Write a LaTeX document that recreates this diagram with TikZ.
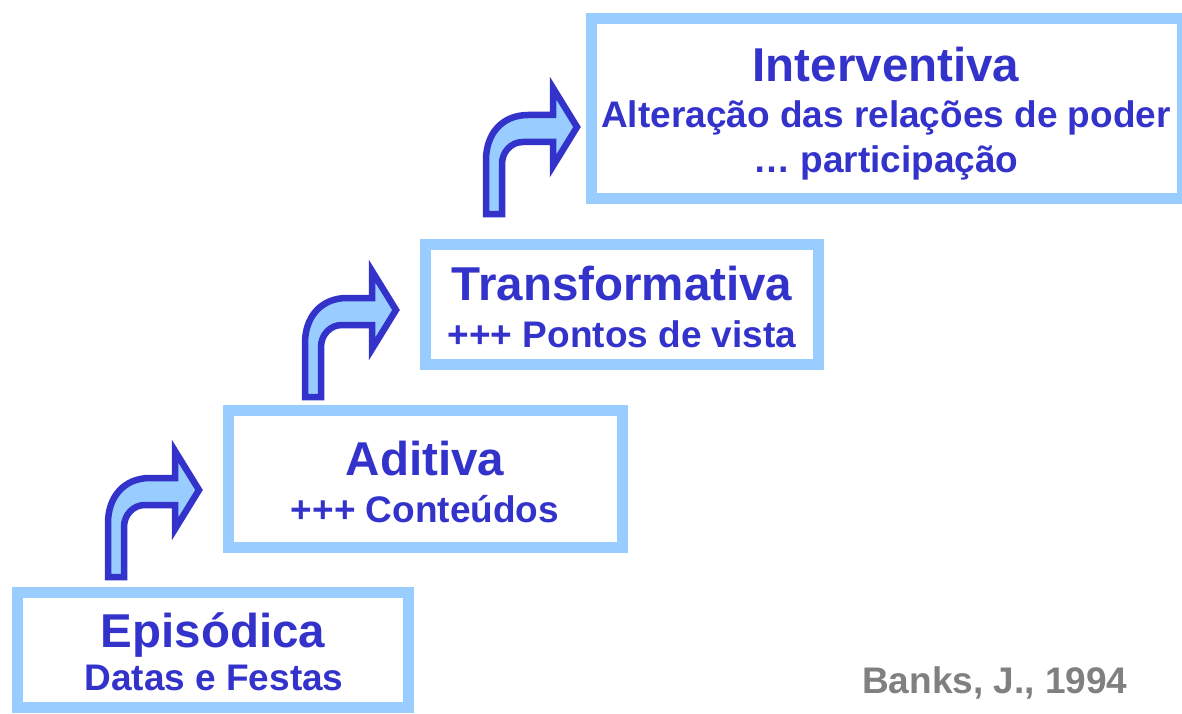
\documentclass[tikz,border=0pt]{standalone}
\usepackage{fontspec}
\setmainfont{Liberation Sans}
\definecolor{dblue}{HTML}{3333CC}
\definecolor{lblue}{HTML}{99CCFF}
\definecolor{grey}{HTML}{808080}
\tikzset{
  stepbox/.style={draw=lblue, line width=11pt, fill=white, inner sep=0pt, outer sep=0pt, rectangle},
  title/.style={text=dblue, font=\bfseries\fontsize{47.5}{47.5}\selectfont, anchor=base, inner sep=0pt},
  sub/.style={text=dblue, font=\bfseries\fontsize{37}{37}\selectfont, anchor=base, inner sep=0pt},
  bentarrow/.pic={
    \draw[draw=dblue, fill=lblue, line width=6.5pt, line join=miter, miter limit=10]
      (3,-3) -- (3,-57) .. controls (3,-83) and (19,-102) .. (45,-102)
      -- (70,-102) -- (70,-129) -- (94,-90) -- (70,-51) -- (70,-75)
      -- (40,-75) .. controls (28,-75) and (19,-65) .. (19,-53)
      -- (19,-3) -- cycle;
  }
}
\begin{document}
\begin{tikzpicture}[x=1pt, y=-1pt]
\useasboundingbox (0,0) rectangle (1182,714);
\fill[white] (0,0) rectangle (1182,714);

% boxes
\node[stepbox, minimum width=391pt, minimum height=115pt] (epi) at (213,650) {};
\node[stepbox, minimum width=394pt, minimum height=137pt] (adi) at (425.5,479) {};
\node[stepbox, minimum width=393pt, minimum height=120pt] (tra) at (622,304.5) {};
\node[stepbox, minimum width=591pt, minimum height=180pt] (int) at (887,108.5) {};

% texts
\node[title] (epiT) at (213,647) {Episódica};
\node[sub] (epiS) at (214,690) {Datas e Festas};
\node[title] (adiT) at (425,475) {Aditiva};
\node[sub] (adiS) at (425,522) {+++ Conteúdos};
\node[title] (traT) at (622,300) {Transformativa};
\node[sub] (traS) at (622,347) {+++ Pontos de vista};
\node[title] (intT) at (886,82) {Interventiva};
\node[sub] (intS1) at (886,128) {Alteração das relações de poder};
\node[sub] (intS2) at (886,172) {… participação};
\node[text=grey, font=\bfseries\fontsize{37}{37}\selectfont, anchor=base west, inner sep=0pt] (banks) at (862,693) {Banks, J., 1994};

% bent arrows
\pic (a1) at (105,580) {bentarrow};
\pic (a2) at (302,400) {bentarrow};
\pic (a3) at (483,217) {bentarrow};
\end{tikzpicture}
\end{document}
